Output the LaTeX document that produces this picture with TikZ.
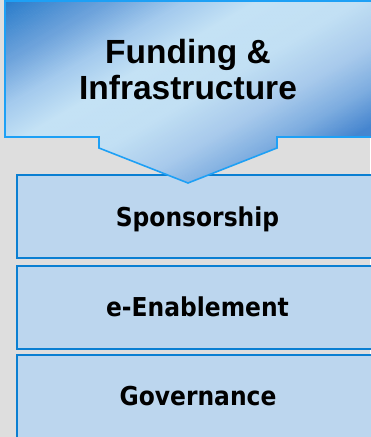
\documentclass[tikz,border=0pt]{standalone}
\usepackage{fontspec}
\setmainfont{Liberation Sans}
\newfontfamily\labfont[FakeStretch=0.9]{DejaVu Sans}
\definecolor{bggray}{HTML}{DEDEDE}
\definecolor{boxfill}{HTML}{BCD6EE}
\definecolor{boxline}{HTML}{0A7FD2}
\definecolor{topline}{HTML}{1EA0F5}
\definecolor{gA}{HTML}{2479C9}
\definecolor{gB}{HTML}{6CA2DB}
\definecolor{gC}{HTML}{A5CBEE}
\definecolor{gD}{HTML}{C4E2F5}
\definecolor{gE}{HTML}{C2E0F4}
\definecolor{gF}{HTML}{A8CAEC}
\definecolor{gG}{HTML}{7FAEE0}
\definecolor{gH}{HTML}{4585CF}
\tikzset{
  x=1pt, y=-1pt,
  layerbox/.style={draw=boxline, line width=2pt, fill=boxfill},
  labeltext/.style={font=\labfont\bfseries\fontsize{26}{28}\selectfont, anchor=base, inner sep=0pt},
  titletext/.style={font=\bfseries\fontsize{33.5}{36}\selectfont, anchor=base, inner sep=0pt},
}
\begin{document}
\begin{tikzpicture}
\useasboundingbox (0,0) rectangle (370,437);
\fill[bggray] (0,0) rectangle (370,437);
% layer boxes
\draw[layerbox] (16.5,175) rectangle (375,258);
\draw[layerbox] (16.5,266) rectangle (375,349);
\draw[layerbox] (16.5,355) rectangle (375,440);
% top arrow shape with diagonal gradient
\begin{scope}
  \clip (5,1) -- (373,1) -- (373,137) -- (277,137) -- (277,148) -- (188,183) -- (99,148) -- (99,137) -- (5,137) -- cycle;
  \begin{scope}[x={(0.5pt,-0.866pt)}, y={(0.866pt,0.5pt)}]
    \foreach \ta/\tb/\ca/\cb in {-20/0/gA/gA, 0/55/gA/gB, 55/95/gB/gC, 95/130/gC/gD, 130/180/gD/gE, 180/225/gE/gF, 225/260/gF/gG, 260/295/gG/gH, 295/340/gH/gH}{
      \pgfmathtruncatemacro{\nsteps}{(\tb-\ta)/1.5}
      \foreach \k in {0,...,\nsteps}{
        \pgfmathsetmacro{\tpos}{\ta+1.5*\k}
        \pgfmathsetmacro{\tend}{\tpos+2}
        \pgfmathtruncatemacro{\pc}{100*\k/\nsteps}
        \colorlet{stripcol}{\cb!\pc!\ca}
        \fill[stripcol] (\tpos,-600) -- (\tend,-600) -- (\tend,600) -- (\tpos,600) -- cycle;
      }
    }
  \end{scope}
\end{scope}
\draw[topline, line width=1.6pt, line join=miter] (5,1) -- (373,1) -- (373,137) -- (277,137) -- (277,148) -- (188,183) -- (99,148) -- (99,137) -- (5,137) -- cycle;
% texts
\node[titletext] (fund) at (188,63) {Funding \&};
\node[titletext] (infra) at (188,99) {Infrastructure};
\node[labeltext] (spon) at (197.5,226) {Sponsorship};
\node[labeltext] (enab) at (197.5,316) {e-Enablement};
\node[labeltext] (gov) at (198,405) {Governance};
\end{tikzpicture}
\end{document}
